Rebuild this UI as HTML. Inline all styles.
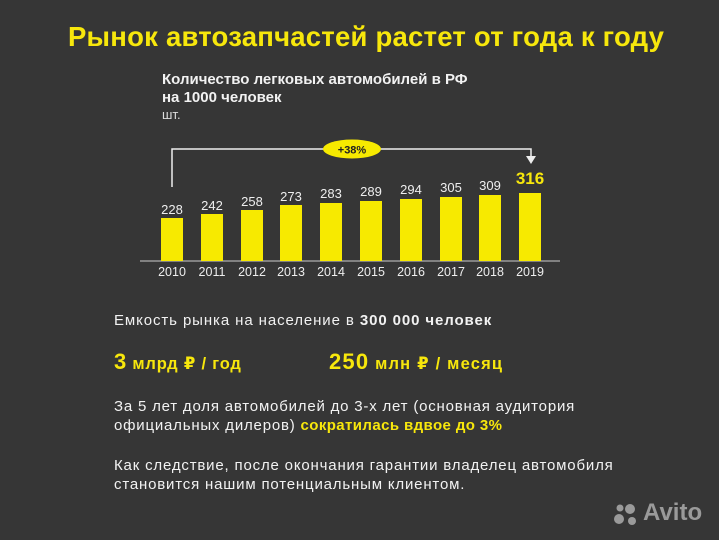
<!DOCTYPE html>
<html><head><meta charset="utf-8"><style>
body{margin:0;width:719px;height:540px;background:#363636;overflow:hidden;font-family:"Liberation Sans","DejaVu Sans",sans-serif;color:#f2f2f2;position:relative}
.a{position:absolute;white-space:nowrap}
.y{color:#f7e70c}
.bar{position:absolute;width:22px;background:#f7ea00}
.v{position:absolute;width:40px;text-align:center;font-size:13px;color:#eee}
.yr{position:absolute;top:265px;width:40px;text-align:center;font-size:12.5px;color:#eee}
.t{font-size:15px;letter-spacing:0.55px}
</style></head><body>
<div class="a y" style="left:68px;top:21px;font-size:27.5px;font-weight:bold;letter-spacing:0.22px">Рынок автозапчастей растет от года к году</div>
<div class="a" style="left:162px;top:71px;font-size:15px;font-weight:bold;line-height:18px">Количество легковых автомобилей в РФ<br>на 1000 человек</div>
<div class="a" style="left:162px;top:107px;font-size:13px;color:#ddd">шт.</div>

<svg class="a" style="left:0;top:0" width="719" height="300">
<line x1="140" y1="261" x2="560" y2="261" stroke="#ccc" stroke-width="1"/>
<polyline points="172,187 172,149 531,149 531,158" fill="none" stroke="#eee" stroke-width="1.5"/>
<polygon points="526,156 536,156 531,164" fill="#eee"/>
<ellipse cx="352" cy="149" rx="29" ry="9.5" fill="#f7ea00"/>
<text x="352" y="153.5" text-anchor="middle" font-size="11" font-weight="bold" fill="#222" font-family="Liberation Sans">+38%</text>
</svg>

<div class="bar" style="left:161px;top:218px;height:43px"></div>
<div class="bar" style="left:201px;top:214px;height:47px"></div>
<div class="bar" style="left:241px;top:210px;height:51px"></div>
<div class="bar" style="left:280px;top:205px;height:56px"></div>
<div class="bar" style="left:320px;top:203px;height:58px"></div>
<div class="bar" style="left:360px;top:201px;height:60px"></div>
<div class="bar" style="left:400px;top:199px;height:62px"></div>
<div class="bar" style="left:440px;top:197px;height:64px"></div>
<div class="bar" style="left:479px;top:195px;height:66px"></div>
<div class="bar" style="left:519px;top:193px;height:68px"></div>

<div class="v" style="left:152px;top:202px">228</div>
<div class="v" style="left:192px;top:198px">242</div>
<div class="v" style="left:232px;top:194px">258</div>
<div class="v" style="left:271px;top:189px">273</div>
<div class="v" style="left:311px;top:186px">283</div>
<div class="v" style="left:351px;top:184px">289</div>
<div class="v" style="left:391px;top:182px">294</div>
<div class="v" style="left:431px;top:180px">305</div>
<div class="v" style="left:470px;top:178px">309</div>
<div class="v y" style="left:510px;top:169px;font-size:17px;font-weight:bold;color:#f7e70c">316</div>

<div class="yr" style="left:152px">2010</div>
<div class="yr" style="left:192px">2011</div>
<div class="yr" style="left:232px">2012</div>
<div class="yr" style="left:271px">2013</div>
<div class="yr" style="left:311px">2014</div>
<div class="yr" style="left:351px">2015</div>
<div class="yr" style="left:391px">2016</div>
<div class="yr" style="left:431px">2017</div>
<div class="yr" style="left:470px">2018</div>
<div class="yr" style="left:510px">2019</div>

<div class="a t" style="left:114px;top:312px;letter-spacing:0.9px">Емкость рынка на население в <b>300 000 человек</b></div>
<div class="a y" style="left:114px;top:349px;font-size:16.5px;font-weight:bold;letter-spacing:0.8px"><span style="font-size:22px">3</span> млрд ₽ / год</div>
<div class="a y" style="left:329px;top:349px;font-size:16.5px;font-weight:bold;letter-spacing:1.2px"><span style="font-size:22px">250</span> млн ₽ / месяц</div>
<div class="a t" style="left:114px;top:397px;line-height:19px;letter-spacing:0.8px">За 5 лет доля автомобилей до 3-х лет (основная аудитория<br>официальных дилеров) <b class="y" style="letter-spacing:0.4px">сократилась вдвое до 3%</b></div>
<div class="a t" style="left:114px;top:456px;line-height:19px;letter-spacing:0.82px">Как следствие, после окончания гарантии владелец автомобиля<br>становится нашим потенциальным клиентом.</div>

<svg class="a" style="left:612px;top:500px" width="30" height="30">
<circle cx="8" cy="8" r="3.5" fill="#9a9a9a"/><circle cx="18" cy="9" r="5" fill="#9a9a9a"/>
<circle cx="7" cy="19" r="5" fill="#9a9a9a"/><circle cx="20" cy="21" r="4" fill="#9a9a9a"/>
</svg>
<div class="a" style="left:643px;top:499px;font-size:24px;font-weight:bold;color:#9a9a9a">Avito</div>
</body></html>
